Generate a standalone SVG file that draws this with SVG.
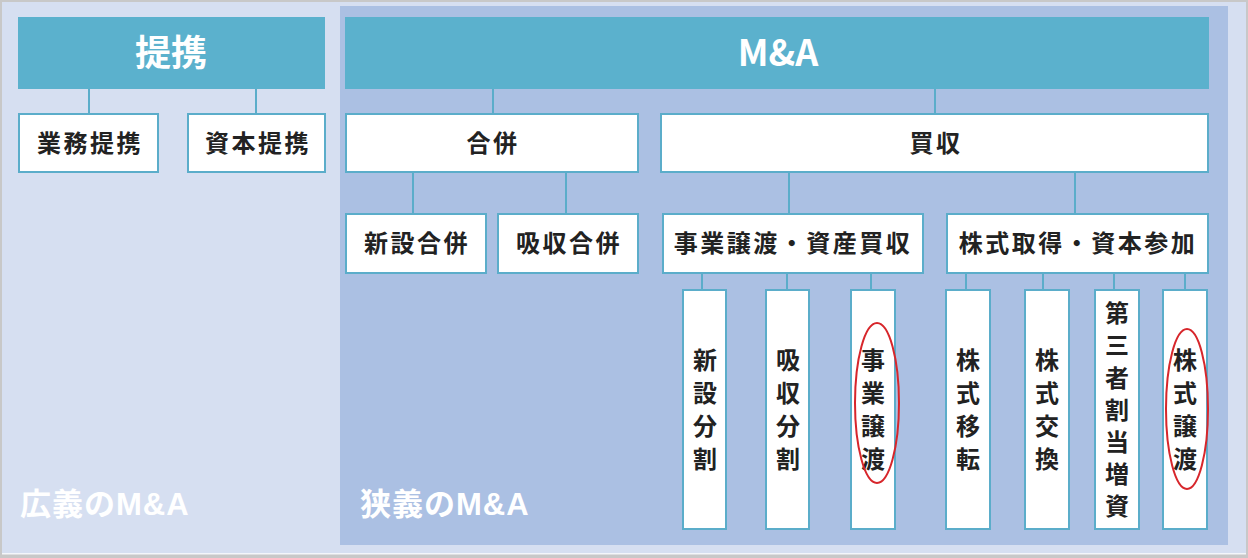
<svg xmlns="http://www.w3.org/2000/svg" width="1248" height="558" viewBox="0 0 1248 558">
<style>
text{font-family:"Noto Sans CJK JP","Noto Sans",sans-serif;font-weight:bold}
.hdr{fill:#5bb1cd}
.box{fill:#ffffff;stroke:#5badca;stroke-width:2}
.lbl{font-size:24px;fill:#222;text-anchor:middle;letter-spacing:2.5px}
.vl{font-size:24px;fill:#222;text-anchor:middle}
.ttl{font-size:36px;fill:#ffffff;text-anchor:middle}
.cap{font-size:31px;fill:#ffffff;letter-spacing:1px}
.con line{stroke:#5badca;stroke-width:2}
.ring{fill:none;stroke:#d7262b;stroke-width:2}
</style>
<rect x="0" y="0" width="1248" height="558" fill="#c8c8c8"/>
<rect x="2" y="2" width="1244" height="551" fill="#d6dff1"/>
<rect x="2" y="553" width="1244" height="1.5" fill="#f4f6fa"/>
<rect id="narrow-panel" x="340" y="6" width="888" height="539" fill="#abc0e3"/>
<g class="con">
<line x1="89" y1="89" x2="89" y2="113"/>
<line x1="256" y1="89" x2="256" y2="113"/>
<line x1="493" y1="89" x2="493" y2="113"/>
<line x1="935" y1="89" x2="935" y2="113"/>
<line x1="413" y1="172" x2="413" y2="213"/>
<line x1="566" y1="172" x2="566" y2="213"/>
<line x1="789" y1="172" x2="789" y2="214"/>
<line x1="1075" y1="172" x2="1075" y2="213"/>
<line x1="702" y1="273" x2="702" y2="290"/>
<line x1="787" y1="273" x2="787" y2="290"/>
<line x1="871" y1="273" x2="871" y2="290"/>
<line x1="966" y1="273" x2="966" y2="290"/>
<line x1="1043" y1="273" x2="1043" y2="290"/>
<line x1="1114" y1="273" x2="1114" y2="290"/>
<line x1="1185" y1="273" x2="1185" y2="290"/>
</g>
<g id="teikei"><rect class="hdr" x="18" y="17" width="307" height="72"/><text class="ttl" x="171" y="66">提携</text></g>
<g id="ma"><rect class="hdr" x="345" y="17" width="864" height="72"/><text class="ttl" x="778" y="66" font-size="38" font-family="Liberation Sans, sans-serif">M&amp;A</text></g>
<g id="gyomu"><rect class="box" x="19" y="114" width="139" height="58"/><text class="lbl" x="90" y="152">業務提携</text></g>
<g id="shihon"><rect class="box" x="188" y="114" width="137" height="58"/><text class="lbl" x="258" y="152">資本提携</text></g>
<g id="gappei"><rect class="box" x="346" y="114" width="292" height="58"/><text class="lbl" x="493" y="152">合併</text></g>
<g id="baishu"><rect class="box" x="661" y="114" width="547" height="58"/><text class="lbl" x="936" y="152">買収</text></g>
<g id="shinsetsu-gappei"><rect class="box" x="346" y="214" width="140" height="59"/><text class="lbl" x="417" y="252">新設合併</text></g>
<g id="kyushu-gappei"><rect class="box" x="498" y="214" width="140" height="59"/><text class="lbl" x="569" y="252">吸収合併</text></g>
<g id="jigyo"><rect class="box" x="663" y="214" width="260" height="59"/><text class="lbl" x="793" y="252" letter-spacing="1.5">事業譲渡・資産買収</text></g>
<g id="kabushiki"><rect class="box" x="947" y="214" width="261" height="59"/><text class="lbl" x="1078" y="252" letter-spacing="1.5">株式取得・資本参加</text></g>
<g id="shinsetsu-bunkatsu"><rect class="box" x="683" y="290" width="43" height="239"/>
<text class="vl" x="705" y="369">新</text><text class="vl" x="705" y="402">設</text><text class="vl" x="705" y="435">分</text><text class="vl" x="705" y="468">割</text></g>
<g id="kyushu-bunkatsu"><rect class="box" x="766" y="290" width="43" height="239"/>
<text class="vl" x="788" y="369">吸</text><text class="vl" x="788" y="402">収</text><text class="vl" x="788" y="435">分</text><text class="vl" x="788" y="468">割</text></g>
<g id="jigyo-joto"><rect class="box" x="851" y="290" width="44" height="239"/>
<text class="vl" x="873" y="369">事</text><text class="vl" x="873" y="402">業</text><text class="vl" x="873" y="435">譲</text><text class="vl" x="873" y="468">渡</text>
<ellipse class="ring" cx="877" cy="403" rx="22" ry="80"/></g>
<g id="kabushiki-iten"><rect class="box" x="946" y="290" width="44" height="239"/>
<text class="vl" x="968" y="369">株</text><text class="vl" x="968" y="402">式</text><text class="vl" x="968" y="435">移</text><text class="vl" x="968" y="468">転</text></g>
<g id="kabushiki-kokan"><rect class="box" x="1025" y="290" width="44" height="239"/>
<text class="vl" x="1047" y="369">株</text><text class="vl" x="1047" y="402">式</text><text class="vl" x="1047" y="435">交</text><text class="vl" x="1047" y="468">換</text></g>
<g id="daisansha"><rect class="box" x="1095" y="290" width="44" height="239"/>
<text class="vl" x="1117" y="322">第</text><text class="vl" x="1117" y="354">三</text><text class="vl" x="1117" y="387">者</text><text class="vl" x="1117" y="419">割</text><text class="vl" x="1117" y="451">当</text><text class="vl" x="1117" y="483">増</text><text class="vl" x="1117" y="515">資</text></g>
<g id="kabushiki-joto"><rect class="box" x="1163" y="290" width="44" height="239"/>
<text class="vl" x="1185" y="369">株</text><text class="vl" x="1185" y="402">式</text><text class="vl" x="1185" y="435">譲</text><text class="vl" x="1185" y="468">渡</text>
<ellipse class="ring" cx="1187" cy="409" rx="21" ry="80"/></g>
<text class="cap" x="20" y="515">広義の<tspan font-family="Liberation Sans, sans-serif">M&amp;A</tspan></text>
<text class="cap" x="360" y="515">狭義の<tspan font-family="Liberation Sans, sans-serif">M&amp;A</tspan></text>
</svg>
